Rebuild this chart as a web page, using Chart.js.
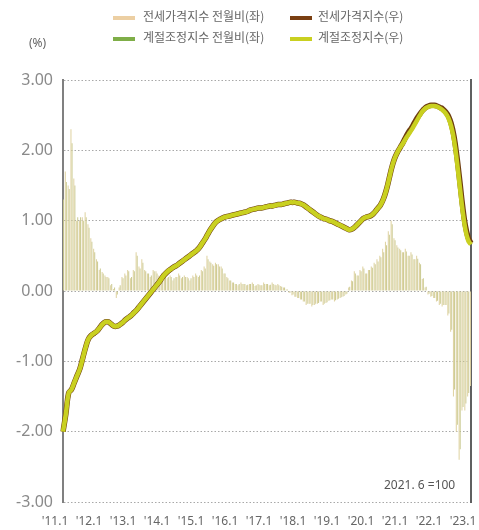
<!DOCTYPE html>
<html>
<head>
<meta charset="utf-8">
<script src="https://cdn.jsdelivr.net/npm/chart.js@4.4.1/dist/chart.umd.min.js"></script>
<style>
  body { margin: 0; background: #fff; font-family: "Noto Sans CJK KR", "Noto Sans", sans-serif; }
  #wrap { position: relative; width: 479px; height: 530px; }
  canvas { position: absolute; left: 0; top: 0; }
  .lg { position: absolute; font-size: 12px; color: #666; white-space: nowrap; line-height: 14px; }
  .sw { position: absolute; width: 22px; height: 4px; }
  .unit { position: absolute; left: 29px; top: 34px; font-size: 12px; color: #666; font-family: "Noto Sans", sans-serif; }
  .note { position: absolute; left: 384px; top: 476px; font-size: 12px; color: #555; font-family: "Noto Sans", sans-serif; }
</style>
</head>
<body>
<div id="wrap">
  <canvas id="chart" width="479" height="530"></canvas>
  <div class="sw" style="left:113px;top:16px;background:#eccfa3"></div>
  <div class="lg" style="left:143px;top:9px">전세가격지수 전월비(좌)</div>
  <div class="sw" style="left:290px;top:16px;background:#7a3f12"></div>
  <div class="lg" style="left:318px;top:9px">전세가격지수(우)</div>
  <div class="sw" style="left:113px;top:37px;background:#7fae48"></div>
  <div class="lg" style="left:143px;top:30px">계절조정지수 전월비(좌)</div>
  <div class="sw" style="left:290px;top:37px;background:#c9d020"></div>
  <div class="lg" style="left:318px;top:30px">계절조정지수(우)</div>
  <div class="unit">(%)</div>
  <div class="note">2021. 6 =100</div>
</div>
<script>
// months '11.1 .. '23.1
var months = [];
for (var y = 11; y <= 23; y++) {
  for (var m = 1; m <= 12; m++) {
    if (y === 23 && m > 1) break;
    months.push("'" + y + '.' + m);
  }
}

// 전세가격지수 전월비 (left axis, %)
var momRaw = [
  1.40, 1.70, 1.50, 2.30, 1.60, 1.00, 1.00, 1.05, 1.12, 0.95, 0.75, 0.60,
  0.45, 0.30, 0.27, 0.22, 0.20, 0.08, 0.03, -0.10, 0.05, 0.20, 0.25, 0.30,
  0.18, 0.30, 0.55, 0.35, 0.45, 0.30, 0.25, 0.20, 0.30, 0.28, 0.22, 0.25,
  0.20, 0.18, 0.22, 0.15, 0.20, 0.25, 0.18, 0.22, 0.20, 0.15, 0.22, 0.25,
  0.20, 0.30, 0.35, 0.50, 0.42, 0.38, 0.40, 0.38, 0.35, 0.25, 0.20, 0.15,
  0.12, 0.10, 0.08, 0.12, 0.10, 0.08, 0.10, 0.12, 0.07, 0.10, 0.08, 0.12,
  0.10, 0.08, 0.12, 0.09, 0.10, 0.07, 0.05, 0.02, -0.03, -0.06, -0.08, -0.10,
  -0.12, -0.15, -0.20, -0.18, -0.22, -0.20, -0.18, -0.15, -0.20, -0.17, -0.14, -0.12,
  -0.15, -0.12, -0.10, -0.08, -0.05, 0.05, 0.15, 0.28, 0.22, 0.30, 0.35, 0.25,
  0.30, 0.35, 0.40, 0.45, 0.50, 0.60, 0.70, 0.85, 1.00, 0.75, 0.65, 0.60,
  0.55, 0.60, 0.50, 0.55, 0.45, 0.50, 0.40, 0.17, 0.05, -0.05, -0.08, -0.10,
  -0.15, -0.20, -0.22, -0.20, -0.35, -0.58, -1.50, -2.00, -2.40, -1.70, -1.70, -1.50,
  -1.35
];

// 계절조정지수 전월비 (left axis, %)
var momSa = [
  1.30, 1.55, 1.45, 2.10, 1.50, 1.05, 1.05, 1.00, 1.05, 0.90, 0.70, 0.55,
  0.42, 0.32, 0.25, 0.20, 0.18, 0.10, 0.05, -0.05, 0.08, 0.18, 0.22, 0.28,
  0.20, 0.28, 0.50, 0.32, 0.40, 0.28, 0.25, 0.22, 0.28, 0.25, 0.20, 0.22,
  0.20, 0.20, 0.20, 0.18, 0.20, 0.22, 0.20, 0.20, 0.18, 0.18, 0.20, 0.22,
  0.22, 0.28, 0.32, 0.45, 0.40, 0.36, 0.38, 0.35, 0.32, 0.25, 0.18, 0.15,
  0.12, 0.10, 0.10, 0.10, 0.10, 0.09, 0.10, 0.10, 0.08, 0.09, 0.08, 0.10,
  0.10, 0.09, 0.10, 0.08, 0.08, 0.06, 0.05, 0.02, -0.02, -0.05, -0.08, -0.10,
  -0.12, -0.15, -0.18, -0.18, -0.20, -0.18, -0.17, -0.15, -0.18, -0.16, -0.13, -0.12,
  -0.13, -0.11, -0.09, -0.07, -0.04, 0.06, 0.14, 0.25, 0.22, 0.28, 0.32, 0.25,
  0.30, 0.33, 0.38, 0.42, 0.48, 0.55, 0.65, 0.80, 0.95, 0.72, 0.62, 0.58,
  0.55, 0.56, 0.50, 0.52, 0.45, 0.46, 0.38, 0.18, 0.06, -0.04, -0.07, -0.10,
  -0.14, -0.18, -0.20, -0.20, -0.32, -0.55, -1.40, -1.90, -2.25, -1.65, -1.60, -1.45,
  -1.30
];

// 전세가격지수 (right axis, shown on the same visual scale)
var idxRaw = [
  -2.00, -1.75, -1.45, -1.40, -1.30, -1.20, -1.10, -0.95, -0.80, -0.68, -0.63, -0.60,
  -0.57, -0.52, -0.47, -0.44, -0.44, -0.47, -0.50, -0.50, -0.48, -0.45, -0.41, -0.38,
  -0.35, -0.31, -0.27, -0.22, -0.17, -0.12, -0.07, -0.02, 0.03, 0.08, 0.13, 0.19,
  0.24, 0.28, 0.31, 0.34, 0.36, 0.39, 0.42, 0.45, 0.48, 0.51, 0.54, 0.57,
  0.61, 0.67, 0.73, 0.80, 0.87, 0.93, 0.98, 1.01, 1.03, 1.05, 1.06, 1.07,
  1.08, 1.09, 1.10, 1.11, 1.12, 1.13, 1.15, 1.16, 1.17, 1.18, 1.18, 1.19,
  1.20, 1.21, 1.21, 1.22, 1.23, 1.23, 1.24, 1.25, 1.26, 1.26, 1.26, 1.25,
  1.24, 1.22, 1.19, 1.16, 1.13, 1.10, 1.07, 1.05, 1.03, 1.02, 1.00, 0.99,
  0.97, 0.95, 0.93, 0.91, 0.89, 0.87, 0.88, 0.91, 0.95, 0.99, 1.03, 1.05,
  1.06, 1.08, 1.12, 1.17, 1.22, 1.30, 1.42, 1.58, 1.75, 1.88, 1.97, 2.04,
  2.11, 2.19, 2.26, 2.32, 2.39, 2.46, 2.52, 2.57, 2.61, 2.63, 2.64, 2.64,
  2.63, 2.61, 2.59, 2.55, 2.49, 2.38, 2.20, 1.92, 1.58, 1.22, 0.93, 0.76,
  0.68
];

// 계절조정지수 (right axis)
var idxSa = [
  -2.00, -1.75, -1.45, -1.40, -1.30, -1.20, -1.10, -0.95, -0.80, -0.68, -0.63, -0.60,
  -0.57, -0.52, -0.47, -0.44, -0.44, -0.47, -0.50, -0.50, -0.48, -0.45, -0.41, -0.38,
  -0.35, -0.31, -0.27, -0.22, -0.17, -0.12, -0.07, -0.02, 0.03, 0.08, 0.13, 0.19,
  0.24, 0.28, 0.31, 0.34, 0.36, 0.39, 0.42, 0.45, 0.48, 0.51, 0.54, 0.57,
  0.61, 0.67, 0.73, 0.80, 0.87, 0.93, 0.98, 1.01, 1.03, 1.05, 1.06, 1.07,
  1.08, 1.09, 1.10, 1.11, 1.12, 1.13, 1.15, 1.16, 1.17, 1.18, 1.18, 1.19,
  1.20, 1.21, 1.21, 1.22, 1.23, 1.23, 1.24, 1.25, 1.26, 1.26, 1.26, 1.25,
  1.24, 1.22, 1.19, 1.16, 1.13, 1.10, 1.07, 1.05, 1.03, 1.02, 1.00, 0.99,
  0.97, 0.95, 0.93, 0.91, 0.89, 0.87, 0.88, 0.91, 0.95, 0.99, 1.03, 1.05,
  1.06, 1.08, 1.12, 1.17, 1.22, 1.30, 1.42, 1.58, 1.75, 1.88, 1.97, 2.04,
  2.10, 2.17, 2.23, 2.29, 2.36, 2.43, 2.50, 2.56, 2.60, 2.62, 2.63, 2.63,
  2.62, 2.60, 2.57, 2.53, 2.46, 2.34, 2.15, 1.85, 1.50, 1.15, 0.88, 0.72,
  0.66
];

var yTicks = [-3, -2, -1, 0, 1, 2, 3];

var ctx = document.getElementById('chart').getContext('2d');
new Chart(ctx, {
  data: {
    labels: months,
    datasets: [
      { type: 'line', label: '계절조정지수(우)', data: idxSa, yAxisID: 'y1', borderColor: '#c9d020', borderWidth: 4.5,
        pointRadius: 0, tension: 0.4, order: 0 },
      { type: 'line', label: '전세가격지수(우)', data: idxRaw, yAxisID: 'y1', borderColor: '#6e3e10', borderWidth: 5.5,
        pointRadius: 0, tension: 0.4, order: 1 },
      { type: 'bar', label: '전세가격지수 전월비(좌)', data: momRaw, yAxisID: 'y', backgroundColor: 'rgba(222,210,160,0.95)',
        barPercentage: 1, categoryPercentage: 0.75, order: 2 },
      { type: 'bar', label: '계절조정지수 전월비(좌)', data: momSa, yAxisID: 'y', backgroundColor: 'rgba(200,200,140,0.9)',
        barPercentage: 1, categoryPercentage: 0.75, order: 3 }
    ]
  },
  options: {
    responsive: false,
    animation: false,
    layout: { padding: { top: 80, right: 8, left: 0, bottom: 0 } },
    plugins: { legend: { display: false }, tooltip: { enabled: false } },
    scales: {
      x: {
        offset: false,
        grid: { display: false },
        border: { display: false },
        ticks: {
          autoSkip: false, maxRotation: 0, minRotation: 0, padding: 4, labelOffset: -8,
          color: '#666', font: { family: 'Noto Sans', size: 12 },
          callback: function(v, i) { return months[i].slice(-2) === '.1' ? months[i] : ''; }
        },
        afterFit: function(s) { s.height = 28; s.paddingLeft = 0; s.paddingRight = 0; }
      },
      y: {
        position: 'left', min: -3, max: 3,
        grid: { color: '#a8a8a8', lineWidth: 1, drawTicks: false },
        border: { display: true, color: '#808080', width: 2, dash: [1.5, 2] },
        ticks: {
          stepSize: 1, padding: 10, color: '#8a8a8a', font: { family: 'Noto Sans', size: 16 },
          callback: function(v) { return yTicks.indexOf(v) >= 0 ? v.toFixed(2) : ''; }
        },
        afterFit: function(s) { s.width = 63; }
      },
      y1: {
        position: 'right', min: -3, max: 3,
        grid: { drawOnChartArea: false, drawTicks: false },
        border: { display: true, color: '#606060', width: 2 },
        ticks: { display: false },
        afterFit: function(s) { s.width = 0; }
      }
    }
  }
});
</script>
</body>
</html>
